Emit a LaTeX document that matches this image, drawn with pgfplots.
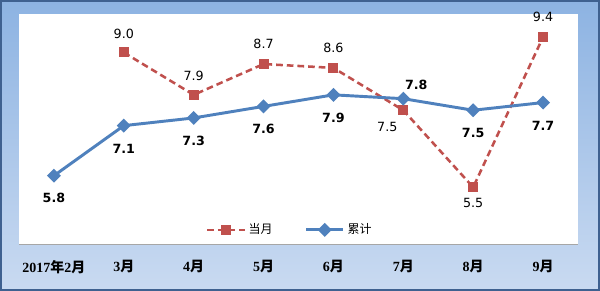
\documentclass[border=0pt]{standalone}
\usepackage{fontspec}
\usepackage{pgfplots}
\usepackage{pgfplotstable}
\pgfplotsset{compat=1.18}
\setmainfont{DejaVu Sans}
\newfontfamily\cjk{Noto Sans CJK SC}
\newfontfamily\lserif{Liberation Serif}
\definecolor{cred}{HTML}{C0504D}
\definecolor{cblue}{HTML}{4F81BD}
\definecolor{frameblue}{HTML}{3F6190}
\definecolor{bgtop}{HTML}{8DB3E2}
\definecolor{bgbot}{HTML}{C9DAF1}

\pgfplotstableread{
x y dx dy
1 9.0 0 14.25
2 7.9 0 14.25
3 8.7 0 15
4 8.6 0 15
5 7.5 -12 -12.75
6 5.5 0 -12
7 9.4 0 15
}\dangyue

\pgfplotstableread{
x y dx dy
0 5.8 0 -16.5
1 7.1 0 -17.25
2 7.3 0 -17.25
3 7.6 0 -17.25
4 7.9 0 -17.25
5 7.8 9.75 10.5
6 7.5 0 -17.25
7 7.7 0 -17.25
}\leiji

\newcommand{\tl}[1]{{\lserif\bfseries #1}}
\newcommand{\tc}[1]{{\cjk\bfseries #1}}

\begin{document}
\begin{tikzpicture}
\path[use as bounding box] (0,0) rectangle (450pt,218.25pt);
\draw[draw=frameblue, line width=1.5pt, top color=bgtop, bottom color=bgbot]
  (0.75pt,0.75pt) rectangle (449.25pt,217.5pt);
\begin{axis}[
  at={(14.25pt,34.5pt)}, anchor=south west,
  scale only axis, width=419.25pt, height=173.25pt,
  xmin=-0.5, xmax=7.5, ymin=4, ymax=10,
  axis background/.style={fill=white},
  axis x line=bottom, axis y line=none,
  x axis line style={-, draw=black!35, line width=0.75pt},
  xtick={0,...,7}, xtick style={draw=none},
  ytick=\empty,
  xticklabels={{\tl{2017}\tc{年}\tl{2}\tc{月}},{\tl{3}\tc{月}},{\tl{4}\tc{月}},{\tl{5}\tc{月}},{\tl{6}\tc{月}},{\tl{7}\tc{月}},{\tl{8}\tc{月}},{\tl{9}\tc{月}}},
  xticklabel style={yshift=-6pt, font=\fontsize{10.5}{12}\selectfont},
  clip=false,
  /pgf/number format/assume math mode=true,
  legend style={at={(0.485,0.015)}, anchor=south, draw=none, fill=none,
    legend columns=2, font=\cjk\fontsize{9}{11}\selectfont,
    /tikz/every even column/.append style={column sep=22pt}},
  legend image code/.code={\draw[mark repeat=2, mark phase=2, #1] plot coordinates {(0pt,0pt) (14pt,0pt) (28pt,0pt)};},
  nodes near coords={\pgfmathprintnumber[fixed,fixed zerofill,precision=1,assume math mode=true]{\pgfplotspointmeta}},
  visualization depends on={\thisrow{dx} \as \dx},
  visualization depends on={\thisrow{dy} \as \dy},
  every node near coord/.append style={anchor=center, xshift=\dx pt, yshift=\dy pt, text=black},
]
\addplot[cred, line width=1.9pt, dash pattern=on 5pt off 3pt, mark=square*, mark size=2.8pt, mark options={solid},
  every node near coord/.append style={font=\fontsize{9.5}{11}\selectfont}]
  table[x=x, y=y] {\dangyue};
\addlegendentry{当月}
\addplot[cblue, line width=2.2pt, mark=square*, mark size=2.6pt, mark options={solid, rotate=45},
  every node near coord/.append style={font=\bfseries\fontsize{9.5}{11}\selectfont}]
  table[x=x, y=y] {\leiji};
\addlegendentry{累计}
\end{axis}
\end{tikzpicture}
\end{document}
